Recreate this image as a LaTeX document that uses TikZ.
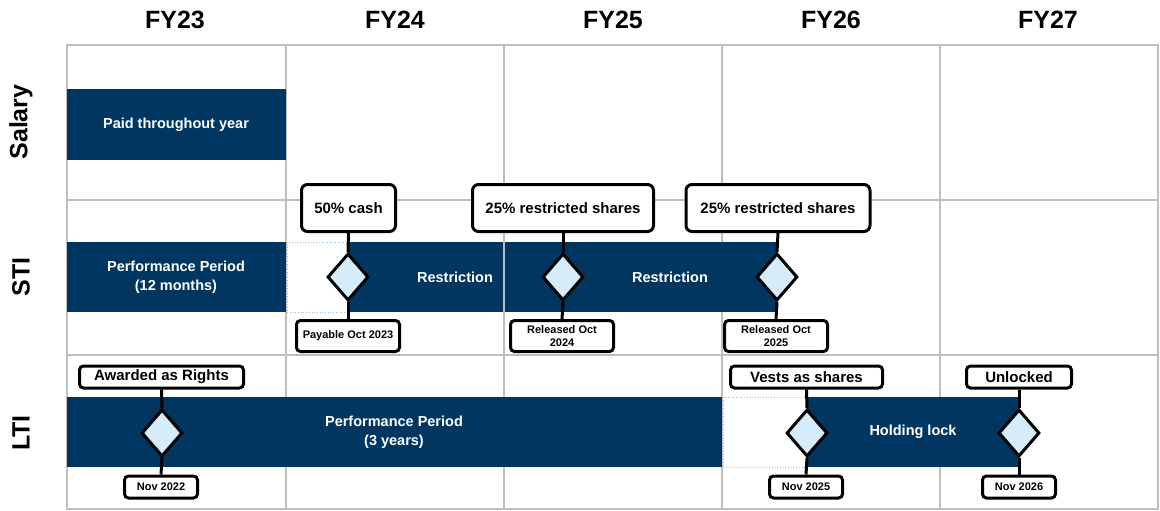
\documentclass[tikz,border=0pt]{standalone}
\usepackage{fontspec}
\setmainfont{Liberation Sans}
\usetikzlibrary{shapes.geometric}
\definecolor{navy}{RGB}{0,54,96}
\definecolor{gridgray}{RGB}{190,190,190}
\definecolor{diafill}{RGB}{213,236,250}
\definecolor{dotblue}{RGB}{150,190,230}
\begin{document}
\begin{tikzpicture}[x=1pt,y=-1pt,
  gridln/.style={draw=gridgray, line width=2pt},
  barfill/.style={fill=navy},
  dotbox/.style={draw=dotblue, dotted, line width=0.7pt},
  bartext/.style={text=white, font=\bfseries\fontsize{14.5}{19}\selectfont, align=center},
  callout/.style={draw=black, line width=3pt, rounded corners=6pt, fill=white, font=\bfseries\fontsize{15}{18}\selectfont, minimum height=47pt, inner sep=0pt},
  tagbox/.style={draw=black, line width=3pt, rounded corners=4pt, fill=white, font=\bfseries\fontsize{15}{18}\selectfont, minimum height=22pt, inner sep=0pt},
  datebox/.style={draw=black, line width=3pt, rounded corners=4pt, fill=white, font=\bfseries\fontsize{11}{13.5}\selectfont, align=center, inner sep=0pt, minimum height=31pt, minimum width=103pt},
  smalldate/.style={draw=black, line width=3pt, rounded corners=4pt, fill=white, font=\bfseries\fontsize{11}{13.5}\selectfont, inner sep=0pt, minimum height=22pt, minimum width=73pt},
  milestone/.style={diamond, draw=black, line width=3pt, fill=diafill, minimum width=41pt, minimum height=47pt, inner sep=0pt},
  conn/.style={draw=black, line width=3pt},
  header/.style={font=\bfseries\fontsize{25}{30}\selectfont},
  rowlab/.style={font=\bfseries\fontsize{25}{30}\selectfont, rotate=90}
]
\useasboundingbox (0,0) rectangle (1160,511);
% grid
\draw[gridln] (67,45) rectangle (1158,509);
\foreach \xx in {286,504,722,940} \draw[gridln] (\xx,45) -- (\xx,509);
\foreach \yy in {200,355} \draw[gridln] (67,\yy) -- (1158,\yy);
% headers
\node[header] (fy23) at (175,20) {FY23};
\node[header] (fy24) at (395,20) {FY24};
\node[header] (fy25) at (613,20) {FY25};
\node[header] (fy26) at (831,20) {FY26};
\node[header] (fy27) at (1048,20) {FY27};
% row labels
\node[rowlab] (rsal) at (21,122) {Salary};
\node[rowlab] (rsti) at (21,277) {STI};
\node[rowlab] (rlti) at (21,433) {LTI};
% bars
\fill[barfill] (67,89) rectangle (286,160);
\fill[barfill] (67,242) rectangle (286,312);
\fill[barfill] (348,242) rectangle (502.5,312);
\fill[barfill] (505,242) rectangle (777,312);
\fill[barfill] (67,397) rectangle (722,467);
\fill[barfill] (807,397) rectangle (1019,467);
\draw[dotbox] (287,242) rectangle (348,312);
\draw[dotbox] (723,397) rectangle (807,467);
% bar texts
\node[bartext] (tsal) at (176,124.5) {Paid throughout year};
\node[bartext] (tstiperf) at (176,277) {Performance Period\\(12 months)};
\node[bartext] (tres1) at (455,277) {Restriction};
\node[bartext] (tres2) at (670,277) {Restriction};
\node[bartext] (tltiperf) at (394,432) {Performance Period\\(3 years)};
\node[bartext] (thold) at (913,432) {Holding lock};
% STI milestones
\node[callout, minimum width=94pt] (c1) at (348.5,208) {50\% cash};
\node[callout, minimum width=181pt] (c2) at (563,208) {25\% restricted shares};
\node[callout, minimum width=184pt] (c3) at (778,208) {25\% restricted shares};
\node[milestone] (d1) at (348,277) {};
\node[milestone] (d2) at (563,277) {};
\node[milestone] (d3) at (777,277) {};
\node[datebox] (b1) at (348,336) {Payable Oct 2023};
\node[datebox] (b2) at (562,336) {Released Oct\\2024};
\node[datebox] (b3) at (776,336) {Released Oct\\2025};
\draw[conn] (c1.south) -- (d1.north);
\draw[conn] (d1.south) -- (b1.north);
\draw[conn] (c2.south) -- (d2.north);
\draw[conn] (d2.south) -- (b2.north);
\draw[conn] (c3.south) -- (d3.north);
\draw[conn] (d3.south) -- (b3.north);
% LTI milestones
\node[tagbox, minimum width=164pt] (t1) at (161.5,377) {Awarded as Rights};
\node[tagbox, minimum width=152pt] (t2) at (806.5,377) {Vests as shares};
\node[tagbox, minimum width=105pt] (t3) at (1019,377) {Unlocked};
\node[milestone] (e1) at (162,433) {};
\node[milestone] (e2) at (807,433) {};
\node[milestone] (e3) at (1019,433) {};
\node[smalldate] (n1) at (161,487) {Nov 2022};
\node[smalldate] (n2) at (806,487) {Nov 2025};
\node[smalldate] (n3) at (1019,487) {Nov 2026};
\draw[conn] (t1.south) -- (e1.north);
\draw[conn] (e1.south) -- (n1.north);
\draw[conn] (t2.south) -- (e2.north);
\draw[conn] (e2.south) -- (n2.north);
\draw[conn] (t3.south) -- (e3.north);
\draw[conn] (e3.south) -- (n3.north);
\end{tikzpicture}
\end{document}
